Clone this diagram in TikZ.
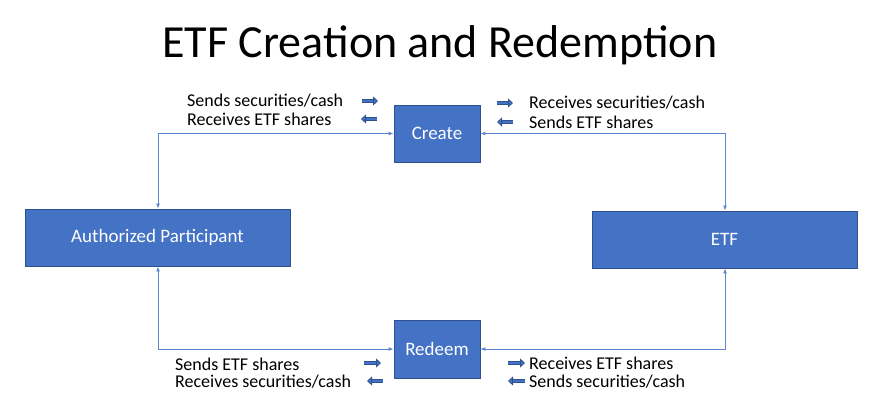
\documentclass[tikz,border=0pt]{standalone}
\usepackage{fontspec}
\setmainfont{Carlito}
\usetikzlibrary{arrows.meta}
\definecolor{boxblue}{HTML}{4472C4}
\definecolor{boxedge}{HTML}{2F528F}
\definecolor{linkblue}{HTML}{5B87D0}
\begin{document}
\begin{tikzpicture}[x=1pt,y=-1pt,
  box/.style={draw=boxedge,fill=boxblue,text=white,font=\fontsize{19}{22}\selectfont,line width=0.8pt,inner sep=0},
  link/.style={draw=linkblue,line width=0.9pt,{Latex[length=5pt,width=4pt]}-{Latex[length=5pt,width=4pt]}},
  lbl/.style={font=\fontsize{18}{20}\selectfont,inner sep=0,anchor=west},
  barr/.style={draw=boxedge,double=boxblue,double distance=2.2pt,line width=0.8pt,-{Triangle[length=5pt,width=9pt,fill=boxblue]}}]
\useasboundingbox (0,0) rectangle (884,407);
\node (title) at (440,45) {\fontsize{46}{50}\selectfont ETF Creation and Redemption};
\node[box,minimum width=86pt,minimum height=57pt] (create) at (437,133.5) {Create};
\node[box,minimum width=86pt,minimum height=58pt] (redeem) at (437,349) {Redeem};
\node[box,minimum width=265pt,minimum height=57pt] (ap) at (157.5,237.5) {Authorized Participant};
\node[box,minimum width=265pt,minimum height=57pt] (etf) at (724.5,239.5) {ETF};
\draw[link] (ap.north -| 158,0) |- (create.west);
\draw[link] (create.east) -| (etf.north -| 725,0);
\draw[link] (ap.south -| 158,0) |- (redeem.west);
\draw[link] (redeem.east) -| (etf.south -| 725,0);
\node[lbl] (t1) at (187,101) {Sends securities/cash};
\node[lbl] (t2) at (187,119) {Receives ETF shares};
\node[lbl] (t3) at (529,103) {Receives securities/cash};
\node[lbl] (t4) at (529,122) {Sends ETF shares};
\node[lbl] (t5) at (175,364) {Sends ETF shares};
\node[lbl] (t6) at (175,381.5) {Receives securities/cash};
\node[lbl] (t7) at (529,363) {Receives ETF shares};
\node[lbl] (t8) at (529,381.5) {Sends securities/cash};
\coordinate (a1) at (362,101); \coordinate (b1) at (378,101);
\coordinate (a2) at (377,119); \coordinate (b2) at (361,119);
\coordinate (a3) at (497,103); \coordinate (b3) at (513,103);
\coordinate (a4) at (513,122); \coordinate (b4) at (497,122);
\coordinate (a5) at (364,363); \coordinate (b5) at (381,363);
\coordinate (a6) at (383,381); \coordinate (b6) at (367,381);
\coordinate (a7) at (508,363); \coordinate (b7) at (525,363);
\coordinate (a8) at (525,381); \coordinate (b8) at (508,381);
\foreach \i in {1,...,8} \draw[barr] (a\i) -- (b\i);
\end{tikzpicture}
\end{document}
